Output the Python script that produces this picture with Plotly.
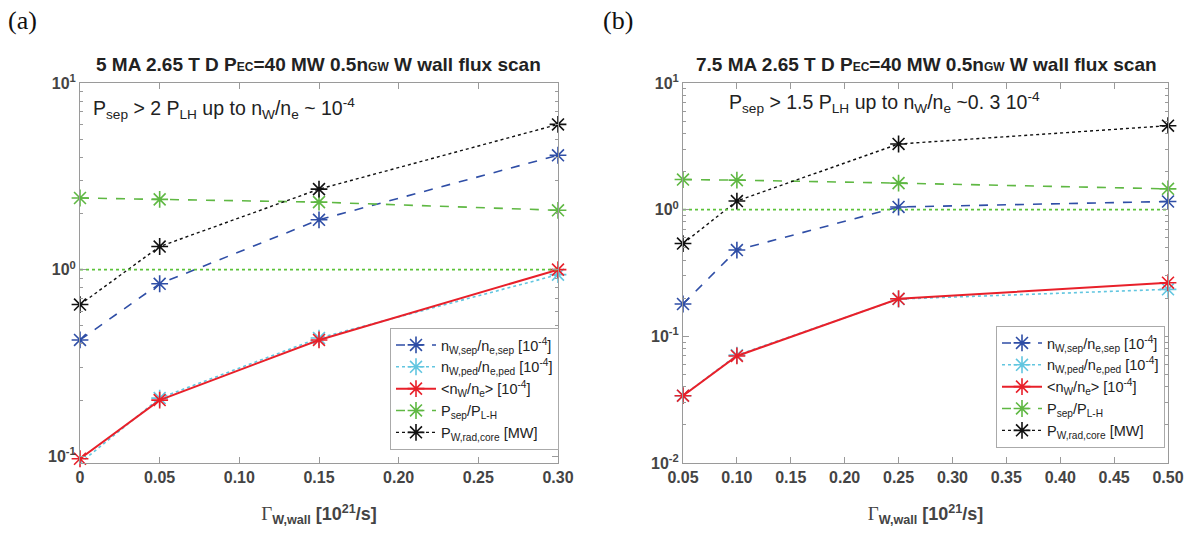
import plotly.graph_objects as go

# ---------------- data ----------------
# Panel (a): 5 MA
xa = [0.0, 0.05, 0.15, 0.30]
a_nw_sep = [0.42, 0.84, 1.85, 4.1]
a_nw_ped = [0.092, 0.205, 0.43, 0.94]
a_nw_avg = [0.097, 0.20, 0.42, 1.0]
a_psep_plh = [2.42, 2.38, 2.3, 2.08]
a_prad = [0.65, 1.33, 2.7, 6.0]

# Panel (b): 7.5 MA
xb = [0.05, 0.10, 0.25, 0.50]
b_nw_sep = [0.18, 0.48, 1.05, 1.16]
b_nw_ped = [0.034, 0.071, 0.197, 0.235]
b_nw_avg = [0.034, 0.07, 0.198, 0.265]
b_psep_plh = [1.73, 1.71, 1.62, 1.46]
b_prad = [0.54, 1.17, 3.3, 4.6]

threshold = [1.0, 1.0]
xa_lim = [0.0, 0.30]
xb_lim = [0.05, 0.50]

series_names = [
    "n<sub>W,sep</sub>/n<sub>e,sep</sub> [10<sup>-4</sup>]",
    "n<sub>W,ped</sub>/n<sub>e,ped</sub> [10<sup>-4</sup>]",
    "&lt;n<sub>W</sub>/n<sub>e</sub>&gt; [10<sup>-4</sup>]",
    "P<sub>sep</sub>/P<sub>L-H</sub>",
    "P<sub>W,rad,core</sub> [MW]",
]
xa_ticks = [0, 0.05, 0.10, 0.15, 0.20, 0.25, 0.30]
xa_ticktext = ["0", "0.05", "0.10", "0.15", "0.20", "0.25", "0.30"]
xb_ticks = [0.05, 0.10, 0.15, 0.20, 0.25, 0.30, 0.35, 0.40, 0.45, 0.50]
xb_ticktext = ["0.05", "0.10", "0.15", "0.20", "0.25", "0.30", "0.35", "0.40", "0.45", "0.50"]
ya_minor = [0.2, 0.3, 0.4, 0.5, 0.6, 0.7, 0.8, 0.9, 2, 3, 4, 5, 6, 7, 8, 9]
yb_minor = [0.02, 0.03, 0.04, 0.05, 0.06, 0.07, 0.08, 0.09] + ya_minor

# ---------------- styles ----------------
colors = ["#2f4ea6", "#62c6e0", "#e8202a", "#5fb843", "#111111"]
dashes = ["dash", "dot", "solid", "dash", "dot"]
widths = [1.6, 1.6, 2.0, 1.6, 1.4]

fig = go.Figure()

def add_panel(x, ys, xax, yax, legend):
    for i, y in enumerate(ys):
        fig.add_trace(go.Scatter(
            x=x, y=y, mode="lines+markers", name=series_names[i],
            line=dict(color=colors[i], dash=dashes[i], width=widths[i]),
            marker=dict(symbol="asterisk-open", size=14,
                        line=dict(color=colors[i], width=1.6)),
            xaxis=xax, yaxis=yax, legend=legend, cliponaxis=False,
        ))

add_panel(xa, [a_nw_sep, a_nw_ped, a_nw_avg, a_psep_plh, a_prad], "x", "y", "legend")
add_panel(xb, [b_nw_sep, b_nw_ped, b_nw_avg, b_psep_plh, b_prad], "x2", "y2", "legend2")

fig.add_trace(go.Scatter(x=xa_lim, y=threshold, mode="lines", showlegend=False,
                         line=dict(color="#5cc23a", dash="dot", width=1.7),
                         xaxis="x", yaxis="y"))
fig.add_trace(go.Scatter(x=xb_lim, y=threshold, mode="lines", showlegend=False,
                         line=dict(color="#5cc23a", dash="dot", width=1.7),
                         xaxis="x2", yaxis="y2"))

W, H = 1201, 536
def px_x(p): return p / W
def px_y(p): return 1 - p / H

axcol = "#9a9a9a"
tickfont = dict(family="Liberation Sans, Arial", size=16, color="#444444", weight="bold")
xtitle = ("<span style='font-family:Liberation Serif;font-weight:normal;font-size:19px'>Γ</span>"
          "<sub>W,wall</sub> [10<sup>21</sup>/s]")

common_x = dict(showline=True, linecolor=axcol, linewidth=1, mirror="ticks",
                ticks="inside", ticklen=6, tickcolor=axcol, showgrid=False,
                zeroline=False, tickfont=tickfont, automargin=False,
                title=dict(text=xtitle, standoff=22,
                           font=dict(family="Liberation Sans, Arial", size=18,
                                     color="#444444", weight="bold")))
common_y = dict(type="log", showline=True, linecolor=axcol, linewidth=1, mirror="ticks",
                ticks="inside", ticklen=6, tickcolor=axcol, showgrid=False,
                zeroline=False, tickfont=tickfont, automargin=False)

fig.update_layout(
    width=W, height=H, margin=dict(l=0, r=0, t=0, b=0, autoexpand=False),
    paper_bgcolor="white", plot_bgcolor="white",
    xaxis=dict(common_x, domain=[px_x(80), px_x(558)], range=xa_lim,
               tickvals=xa_ticks, ticktext=xa_ticktext, anchor="y"),
    yaxis=dict(common_y, domain=[px_y(463), px_y(83)], range=[-1.036, 1],
               tickvals=[0.1, 1, 10],
               ticktext=["10<sup>-1</sup>", "10<sup>0</sup>", "10<sup>1</sup>"], anchor="x",
               minor=dict(tickmode="array", tickvals=ya_minor, ticks="inside", ticklen=3,
                          tickcolor=axcol, showgrid=False)),
    xaxis2=dict(common_x, domain=[px_x(683), px_x(1168)], range=xb_lim,
                tickvals=xb_ticks, ticktext=xb_ticktext, anchor="y2"),
    yaxis2=dict(common_y, domain=[px_y(463), px_y(83)], range=[-2, 1],
                tickvals=[0.01, 0.1, 1, 10],
                ticktext=["10<sup>-2</sup>", "10<sup>-1</sup>", "10<sup>0</sup>", "10<sup>1</sup>"],
                anchor="x2",
                minor=dict(tickmode="array", tickvals=yb_minor, ticks="inside", ticklen=3,
                           tickcolor=axcol, showgrid=False)),
    legend=dict(x=px_x(390), y=px_y(328), xanchor="left", yanchor="top",
                bordercolor="#aaaaaa", borderwidth=1, bgcolor="white",
                font=dict(family="Liberation Sans, Arial", size=14.5, color="#222222"),
                tracegroupgap=0, itemwidth=40),
    legend2=dict(x=px_x(996), y=px_y(326), xanchor="left", yanchor="top",
                 bordercolor="#aaaaaa", borderwidth=1, bgcolor="white",
                 font=dict(family="Liberation Sans, Arial", size=14.5, color="#222222"),
                 tracegroupgap=0, itemwidth=40),
)

title_font = dict(family="Liberation Sans, Arial", size=19, color="#222222", weight="bold")
sm = "<span style='font-size:12px'>%s</span>"
fig.add_annotation(text="5 MA 2.65 T D P" + sm % "EC" + "=40 MW 0.5n" + sm % "GW" + " W wall flux scan",
                   x=px_x(318), y=px_y(64), xref="paper", yref="paper",
                   xanchor="center", yanchor="middle", showarrow=False, font=title_font)
fig.add_annotation(text="7.5 MA 2.65 T D P" + sm % "EC" + "=40 MW 0.5n" + sm % "GW" + " W wall flux scan",
                   x=px_x(926), y=px_y(64), xref="paper", yref="paper",
                   xanchor="center", yanchor="middle", showarrow=False, font=title_font)

note_font = dict(family="Liberation Sans, Arial", size=19.5, color="#222222")
fig.add_annotation(text="P<sub>sep</sub> &gt; 2 P<sub>LH</sub> up to n<sub>W</sub>/n<sub>e</sub> ~ 10<sup>-4</sup>",
                   x=px_x(91), y=px_y(108), xref="paper", yref="paper",
                   xanchor="left", yanchor="middle", showarrow=False, font=note_font)
fig.add_annotation(text="P<sub>sep</sub> &gt; 1.5 P<sub>LH</sub> up to n<sub>W</sub>/n<sub>e</sub> ~0. 3 10<sup>-4</sup>",
                   x=px_x(727), y=px_y(103), xref="paper", yref="paper",
                   xanchor="left", yanchor="middle", showarrow=False, font=note_font)

panel_font = dict(family="Liberation Serif, Times New Roman", size=26, color="#111111")
fig.add_annotation(text="(a)", x=px_x(6), y=px_y(20), xref="paper", yref="paper",
                   xanchor="left", yanchor="middle", showarrow=False, font=panel_font)
fig.add_annotation(text="(b)", x=px_x(601), y=px_y(20), xref="paper", yref="paper",
                   xanchor="left", yanchor="middle", showarrow=False, font=panel_font)

fig.write_html("out.html", config={"displayModeBar": False},
               post_script="document.body.style.margin='0';")
